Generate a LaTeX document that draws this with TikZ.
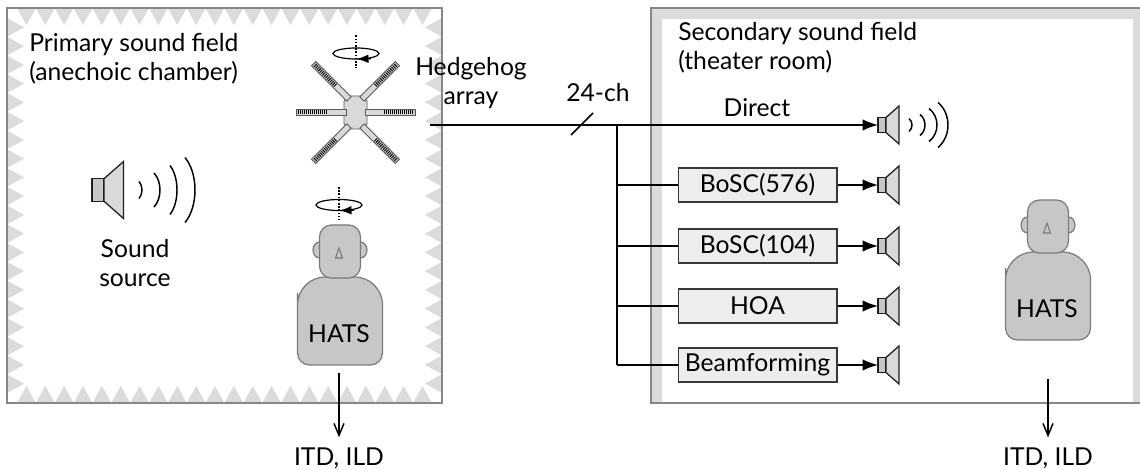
\documentclass[tikz,border=0pt]{standalone}
\usepackage{fontspec}
\setmainfont{Lato}
\usetikzlibrary{arrows.meta}

% loudspeaker: magnet + cone, #1 name of the input point, #2 position, #3 scale
\newcommand\loudspk[3]{%
  \coordinate (#1) at #2;
  \begin{scope}[shift={#2}, scale=#3]
    \draw[spk, fill=black!22] (0,-7.5) rectangle (8,7.5);
    \draw[spk, fill=black!15] (8,-7.5) -- (21,-19) -- (21,19) -- (8,7.5) -- cycle;
  \end{scope}}

% one sound wave: x of the ends, centre y, bulge, half height
\newcommand\wavearc[4]{%
  \draw[wave] (#1,{#2-#4}) .. controls ({#1+1.333*#3},{#2-0.5*#4}) and ({#1+1.333*#3},{#2+0.5*#4}) .. (#1,{#2+#4});}

% head-and-torso simulator, #1 name of the label, #2 x of centre, #3 y of head top
\newcommand\dummyhead[3]{%
  \draw[dummy] ({#2-20.5},{#3+25}) ellipse [x radius=6.5, y radius=8];
  \draw[dummy] ({#2+20.5},{#3+25}) ellipse [x radius=6.5, y radius=8];
  \draw[dummy] ({#2-42.5},{#3+96}) [rounded corners=9pt] -- ({#2-42.5},{#3+140}) -- ({#2+42.5},{#3+140}) -- ({#2+42.5},{#3+96})
     [rounded corners=21pt] -- ({#2+42.5},{#3+52}) -- ({#2-42.5},{#3+52}) -- cycle;
  \draw[dummy, rounded corners=9pt] ({#2-20.5},#3) rectangle ({#2+20.5},{#3+53});
  \draw[draw=black!52, line width=0.8pt] ({#2-1},{#3+23}) -- ({#2-4.5},{#3+33}) -- ({#2+2.5},{#3+33}) -- cycle;
  \node[label] (#1) at ({#2-1},{#3+109}) {HATS};}

% rotation mark: centre of the ellipse
\newcommand\spinmark[2]{%
  \draw[spinaxis] (#1,{#2-18}) -- (#1,{#2+15});
  \draw[spin] (#1,#2) ellipse [x radius=23, y radius=5.5];
  \draw[spin, -{Latex[length=9pt,width=6.5pt]}] ({#1+15},{#2+5.2}) -- ({#1+0.5},{#2+5.5});}

% one arm of the microphone array: inner end, direction
\newcommand\hharm[2]{%
  \begin{scope}[shift={#1}, rotate=#2]
    \draw[armbox] (0,-3) rectangle (50,3);
    \draw[armmic] (19,0) -- (49,0);
  \end{scope}}

\tikzset{
  panel/.style={draw=black!47, line width=1.5pt},
  tooth/.style={fill=black!14},
  wire/.style={line width=1.1pt},
  feed/.style={wire, -{Latex[length=11.5pt,width=8.5pt]}},
  meas/.style={wire, -{Straight Barb[length=9pt,width=7.5pt]}},
  proc/.style={draw=black!78, fill=black!7, line width=1pt, minimum width=119pt,
               minimum height=25.5pt, inner sep=0pt},
  spk/.style={draw=black!88, line width=0.95pt},
  wave/.style={line width=1.1pt},
  dummy/.style={fill=black!22, draw=black!52, line width=0.9pt},
  spinaxis/.style={line width=0.8pt, dash pattern=on 1.2pt off 1.2pt},
  spin/.style={line width=0.9pt},
  armbox/.style={fill=black!15, draw=black!65, line width=0.6pt},
  armmic/.style={line width=3pt, dash pattern=on 0.7pt off 0.8pt},
  label/.style={inner sep=0pt},
}

\begin{document}
\begin{tikzpicture}[x=0.75pt, y=-0.75pt, font=\fontsize{18.5}{21.8}\selectfont]
\clip (0,0) rectangle (1140,470);
\fill[white] (0,0) rectangle (1140,470);

% ---------- anechoic chamber with wedges ----------
\foreach \i in {0,...,21} {
  \fill[tooth] ({17+18.86*\i},8) -- ({17+18.86*(\i+1)},8) -- ({17+18.86*(\i+0.5)},25) -- cycle;
  \fill[tooth] ({17+18.86*\i},403) -- ({17+18.86*(\i+1)},403) -- ({17+18.86*(\i+0.5)},386) -- cycle;
}
\foreach \j in {0,...,19} {
  \fill[tooth] (7,{18+18.75*\j}) -- (7,{18+18.75*(\j+1)}) -- (24,{18+18.75*(\j+0.5)}) -- cycle;
  \fill[tooth] (442,{18+18.75*\j}) -- (442,{18+18.75*(\j+1)}) -- (425,{18+18.75*(\j+0.5)}) -- cycle;
}
\draw[panel] (7,8) rectangle (442,403);

% ---------- theater room ----------
\fill[tooth] (651,8) rectangle (1150,19);
\fill[tooth] (651,8) rectangle (662,403);
\fill[tooth] (1133,8) rectangle (1150,403);
\draw[panel] (651,8) rectangle (1150,403);

% ---------- titles ----------
\node[label, anchor=west, align=left] (primary) at (29,58.5) {Primary sound field\\(anechoic chamber)};
\node[label, anchor=west, align=left] (secondary) at (678,48) {Secondary sound field\\(theater room)};

% ---------- sound source ----------
\loudspk{src}{(92,190)}{1.5}
\wavearc{139}{190}{3}{8.5}
\wavearc{154}{190}{6}{17}
\wavearc{170}{190}{7}{24.5}
\wavearc{185}{190}{10}{32.5}
\node[label, align=center] (srcname) at (135,263) {Sound\\source};

% ---------- hedgehog array ----------
\spinmark{356}{53.5}
\fill[black!15, draw=black!65, line width=0.6pt]
  (349,96) -- (362,96) -- (367,101) -- (367,124) -- (362,129) -- (349,129) -- (344,124) -- (344,101) -- cycle;
\hharm{(346,112.5)}{180}
\hharm{(365,112.5)}{0}
\hharm{(349,99)}{135}
\hharm{(362,99)}{45}
\hharm{(349,126)}{225}
\hharm{(362,126)}{315}
\node[label, align=center] (hhname) at (471,83) {Hedgehog\\array};

% ---------- HATS in both fields ----------
\spinmark{339}{205}
\dummyhead{hatsL}{340}{225}
\dummyhead{hatsR}{1048}{200}
\coordinate (footL) at (339,373);
\coordinate (footR) at (1048,379);
\node[label, anchor=north] (itdL) at (339,448) {ITD, ILD};
\node[label, anchor=north] (itdR) at (1048,448) {ITD, ILD};
\draw[meas, shorten >=8pt] (footL) -- (itdL.north);
\draw[meas, shorten >=8pt] (footR) -- (itdR.north);

% ---------- reproduction chain ----------
\node[proc] (b576) at (757.5,185) {BoSC(576)};
\node[proc] (b104) at (757.5,246) {BoSC(104)};
\node[proc] (hoa)  at (757.5,306) {HOA};
\node[proc] (beam) at (757.5,365) {Beamforming};

\loudspk{spkD}{(878,125)}{1}
\loudspk{spkb576}{(878,185)}{1}
\loudspk{spkb104}{(878,246)}{1}
\loudspk{spkhoa}{(878,306)}{1}
\loudspk{spkbeam}{(878,365)}{1}
\wavearc{909}{125}{3}{6.5}
\wavearc{920}{125}{5}{10.5}
\wavearc{929}{125}{8}{16.5}
\wavearc{938}{125}{10}{22.5}

\coordinate (hhout) at (430,125);
\coordinate (split) at (617,125);
\coordinate (slash) at (582,124);
\draw[feed] (hhout) -- (spkD);
\draw[wire] ([shift={(-11,11)}]slash) -- ([shift={(11,-11)}]slash);
\node[label] (chan) at (598,93) {24-ch};
\node[label] (directlbl) at (757,108) {Direct};
\draw[wire] (split) -- (split |- beam);
\foreach \b in {b576,b104,hoa,beam} {
  \draw[wire] (split |- \b) -- (\b.west);
  \draw[feed] (\b.east) -- (spk\b);
}
\end{tikzpicture}
\end{document}
